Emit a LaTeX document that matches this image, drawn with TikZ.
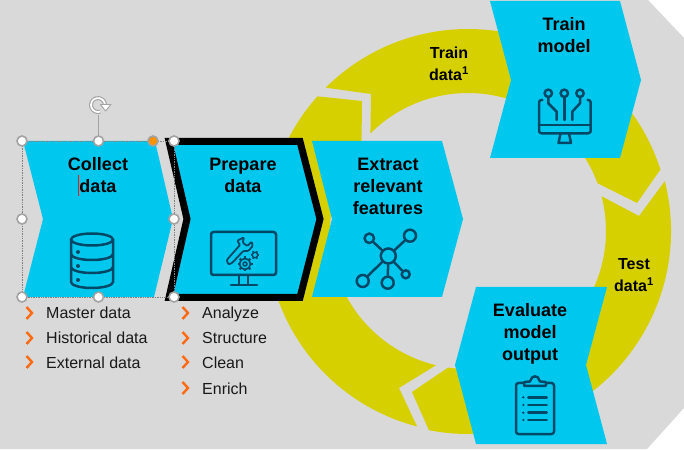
\documentclass[tikz,border=0pt]{standalone}
\usepackage{fontspec}
\setmainfont{Liberation Sans}
\usepackage{xcolor}
\usetikzlibrary{positioning, calc}

\definecolor{panelgray}{HTML}{D9D9D9}
\definecolor{ringyellow}{HTML}{D7D000}
\definecolor{boxblue}{HTML}{00C7EE}
\definecolor{icondark}{HTML}{004866}
\definecolor{tickorange}{HTML}{FF6A10}
\definecolor{handlegray}{HTML}{A3A3A3}

\tikzset{
  boxlabel/.style={font=\fontsize{18}{22}\selectfont\bfseries, align=center, text=black, inner sep=0pt},
  ringlabel/.style={font=\fontsize{16}{22}\selectfont\bfseries, align=center, text=black, inner sep=0pt},
  listlabel/.style={font=\fontsize{16}{20}\selectfont, anchor=base west, text=black!90, inner sep=0pt},
  tickmark/.style={draw=tickorange, line width=2.4pt, miter limit=4},
  iconline/.style={draw=icondark, line width=2.5pt, line cap=round, line join=round},
  netdot/.style={circle, draw=icondark, line width=2.5pt, inner sep=0pt},
  handle/.style={circle, draw=handlegray, fill=white, line width=1.6pt, minimum size=10pt, inner sep=0pt}
}

\begin{document}
\begin{tikzpicture}[x=1pt, y=1pt]
\useasboundingbox (0,0) rectangle (684,449);

% Panel
\fill[panelgray] (0,0) -- (647,0) -- (684,41) -- (684,411) -- (648,449) -- (0,449) -- cycle;

% Ring segments
\coordinate (ringc) at (468,218);
\fill[ringyellow] ([shift={(ringc)}]134.8:202pt) arc[start angle=134.8, end angle=17.7, radius=202pt] -- (637,246)
  -- ([shift={(ringc)}]20.3:138pt) arc[start angle=20.3, end angle=135, radius=138pt] -- (371,355) -- cycle;
\fill[ringyellow] ([shift={(ringc)}]14.2:203pt) arc[start angle=14.2, end angle=-101.1, radius=203pt] -- (412,57)
  -- ([shift={(ringc)}]-98.3:138pt) arc[start angle=-98.3, end angle=14.6, radius=138pt] -- (639,233) -- cycle;
\fill[ringyellow] ([shift={(ringc)}]255.4:202pt) arc[start angle=255.4, end angle=138.2, radius=202pt] -- (362,348)
  -- ([shift={(ringc)}]140.5:138pt) arc[start angle=140.5, end angle=256.6, radius=138pt] -- (399,61) -- cycle;

% Step boxes
\fill[boxblue] (23,308) -- (155,308) -- (173,230) -- (154,152) -- (23,152) -- (43,230) -- cycle;
\draw[fill=boxblue, draw=black, line width=7pt] (169,307.5) -- (300,307.5) -- (320,230) -- (300,151.5) -- (169,151.5) -- (187,230) -- cycle;
\fill[boxblue] (312,308) -- (442,308) -- (463,230) -- (442,152) -- (312,152) -- (332,230) -- cycle;
\fill[boxblue] (490,448) -- (620,448) -- (641,369) -- (620,291) -- (490,291) -- (511,369) -- cycle;
\fill[boxblue] (476,162) -- (607,162) -- (586,84) -- (607,5) -- (476,5) -- (455,84) -- cycle;

% Box labels
\node[boxlabel] (collect) at (98,274) {Collect\\data};
\node[boxlabel] (prepare) at (243,274) {Prepare\\data};
\node[boxlabel] (extract) at (388,263) {Extract\\relevant\\features};
\node[boxlabel] (train) at (564,414) {Train\\model};
\node[boxlabel] (evaluate) at (530,115.5) {Evaluate\\model\\output};
\node[ringlabel] (traindata) at (449,385) {Train\\data\textsuperscript{1}};
\node[ringlabel] (testdata) at (634,174) {Test\\data\textsuperscript{1}};

% Lists
\draw[tickmark] (26.5,142) -- (32,136) -- (26.5,130);
\draw[tickmark] (26.5,117) -- (32,111) -- (26.5,105);
\draw[tickmark] (26.5,93) -- (32,87) -- (26.5,81);
\node[listlabel] (master) at (46,130) {Master data};
\node[listlabel] (historical) at (46,105) {Historical data};
\node[listlabel] (external) at (46,80) {External data};
\draw[tickmark] (182.5,142) -- (188,136) -- (182.5,130);
\draw[tickmark] (182.5,117) -- (188,111) -- (182.5,105);
\draw[tickmark] (182.5,93) -- (188,87) -- (182.5,81);
\draw[tickmark] (182.5,67) -- (188,61) -- (182.5,55);
\node[listlabel] (analyze) at (202,130) {Analyze};
\node[listlabel] (structure) at (202,105) {Structure};
\node[listlabel] (clean) at (202,80) {Clean};
\node[listlabel] (enrich) at (202,54) {Enrich};

% Database icon
\draw[iconline] (92,209.5) ellipse (21 and 6);
\draw[iconline] (71,209.5) -- (71,167) arc[start angle=180, end angle=360, x radius=21, y radius=6] -- (113,209.5);
\draw[iconline] (71,195) arc[start angle=180, end angle=360, x radius=21, y radius=6];
\draw[iconline] (71,182) arc[start angle=180, end angle=360, x radius=21, y radius=6];
\fill[icondark] (78,197) circle (2);
\fill[icondark] (78,183) circle (2);
\fill[icondark] (78,169) circle (2);

% Monitor icon
\draw[iconline, rounded corners=2.5pt] (211,217) rectangle (276,174);
\draw[iconline] (239,174) -- (239,164);
\draw[iconline] (248,174) -- (248,164);
\draw[iconline] (231,164) -- (257,164);
\draw[iconline, line width=1.8pt, rounded corners=1pt] (226.7,189) -- (240,204) -- (237.3,208.3) -- (244,211.7) -- (242.7,206.3)
  -- (247.3,203) -- (251.7,207.3) -- (252.7,203) -- (248.3,198) -- (243.3,198) -- (231.7,185.7) -- (228.3,184.7) -- cycle;
\draw[iconline, line width=1.7pt, fill=boxblue] (245,185) circle (5.5);
\draw[iconline, line width=1.5pt] (245,185) circle (2);
\foreach \a in {0,45,...,315} \draw[iconline, line width=2.2pt, line cap=butt] ($(245,185)+(\a:5)$) -- ($(245,185)+(\a:7.5)$);
\draw[iconline, line width=1.5pt, fill=boxblue] (255,194) circle (2.8);
\foreach \a in {0,60,...,300} \draw[iconline, line width=1.5pt, line cap=butt] ($(255,194)+(\a:2.6)$) -- ($(255,194)+(\a:4.4)$);

% Network icon
\node[netdot, minimum size=15pt] (hub) at (388.3,193) {};
\node[netdot, minimum size=9.5pt] (nodeul) at (369.3,210.7) {};
\node[netdot, minimum size=12pt] (nodeur) at (410,213.3) {};
\node[netdot, minimum size=12pt] (nodell) at (362.7,168) {};
\node[netdot, minimum size=12pt] (nodebt) at (387.7,166.3) {};
\node[netdot, minimum size=8pt] (nodelr) at (405.7,174.7) {};
\draw[iconline] (hub) -- (nodeul);
\draw[iconline] (hub) -- (nodeur);
\draw[iconline] (hub) -- (nodell);
\draw[iconline] (hub) -- (nodebt);
\draw[iconline] (hub) -- (nodelr);

% Circuit icon
\draw[iconline, rounded corners=2.5pt] (542.3,349) -- (539,349) -- (539,315.7) -- (590.7,315.7) -- (590.7,349) -- (587.7,349);
\draw[iconline] (539,324) -- (590.7,324);
\draw[iconline] (560.5,315.7) -- (558.5,306) -- (571,306) -- (569,315.7);
\draw[iconline] (548.3,355.7) circle (3.7);
\draw[iconline] (564.3,355.7) circle (3.7);
\draw[iconline] (580,355.7) circle (3.7);
\draw[iconline] (564.3,352) -- (564.3,329);
\draw[iconline] (548.3,352) -- (548.3,345.7) -- (556.7,337.3) -- (556.7,329);
\draw[iconline] (580,352) -- (580,345.7) -- (572.3,337.3) -- (572.3,329);

% Clipboard icon
\draw[iconline, rounded corners=2.5pt] (516,66) rectangle (554,15);
\draw[iconline, rounded corners=1pt, fill=boxblue] (524,63) -- (524,67) -- (530.5,67.5) .. controls (531,74) and (539,74) .. (539.5,67.5) -- (546,67) -- (546,63) -- cycle;
\fill[icondark] (523.3,51.7) circle (1.3);
\fill[icondark] (523.3,44) circle (1.3);
\fill[icondark] (523.3,36.3) circle (1.3);
\fill[icondark] (523.3,29) circle (1.3);
\draw[iconline] (528.3,51.7) -- (546.7,51.7);
\draw[iconline] (528.3,44) -- (546.7,44);
\draw[iconline] (528.3,36.3) -- (546.7,36.3);
\draw[iconline] (528.3,29) -- (546.7,29);

% Selection frame
\draw[red!80!orange, line width=0.9pt] (78.5,274) -- (78.5,253);
\coordinate (selTL) at (22,308);
\coordinate (selBR) at (174,152);
\draw[gray, densely dotted, line width=0.7pt] (selTL) rectangle (selBR);
\coordinate (rotbase) at (98.5,334);
\draw[handlegray, line width=1.2pt] (98.5,308) -- (rotbase);
\node[handle] (hTL) at (selTL) {};
\node[handle] (hTM) at (98.5,308) {};
\node[handle, fill=orange!85!yellow] (hTO) at (153,308) {};
\node[handle] (hTR) at (174,308) {};
\node[handle] (hML) at (22,230) {};
\node[handle] (hMR) at (174,230) {};
\node[handle] (hBL) at (22,152) {};
\node[handle] (hBM) at (98.5,152) {};
\node[handle] (hBR) at (selBR) {};

% Rotate mark
\draw[handlegray, line width=4pt] (100.4,337.4) arc[start angle=-70, end angle=-360, radius=7];
\draw[white, line width=1.8pt] (100.4,337.4) arc[start angle=-70, end angle=-360, radius=7];
\draw[handlegray, fill=white, line width=0.9pt, line join=round] (100.5,344.5) -- (111,344.5) -- (105.5,338) -- cycle;
\end{tikzpicture}
\end{document}
